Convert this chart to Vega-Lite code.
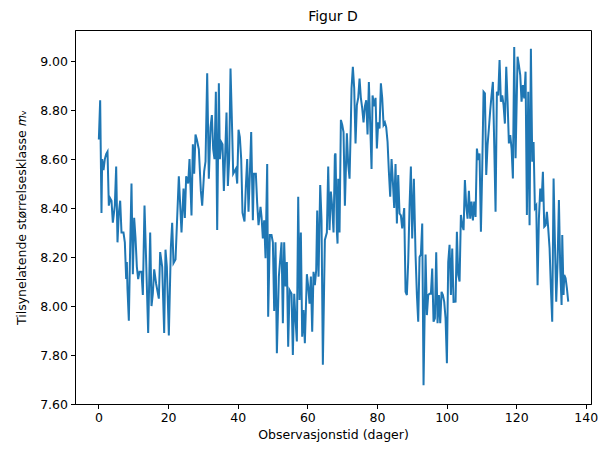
{
  "$schema": "https://vega.github.io/schema/vega-lite/v6.json",
  "width": 516,
  "height": 374,
  "autosize": {"type": "none"},
  "padding": {"left": 75, "top": 30, "right": 9, "bottom": 47},
  "title": {"text": "Figur D", "fontSize": 14, "fontWeight": "normal", "font": "DejaVu Sans", "color": "black", "offset": 6},
  "config": {
    "view": {"stroke": "black", "strokeWidth": 1},
    "axis": {"domainColor": "black", "tickColor": "black", "labelColor": "black", "titleColor": "black", "labelFont": "DejaVu Sans", "titleFont": "DejaVu Sans", "labelFontSize": 12.5, "titleFontSize": 12.5, "titleFontWeight": "normal", "tickSize": 4.5, "grid": false, "labelPadding": 3}
  },
  "data": {"values": [
    {"t":0.10,"m":8.68},{"t":0.48,"m":8.84},{"t":0.86,"m":8.38},{"t":1.05,"m":8.60},{"t":1.44,"m":8.555},{"t":1.82,"m":8.60},{"t":2.20,"m":8.62},{"t":2.59,"m":8.63},{"t":2.97,"m":8.41},{"t":3.35,"m":8.44},{"t":3.74,"m":8.43},{"t":4.12,"m":8.34},{"t":4.69,"m":8.41},{"t":5.08,"m":8.57},{"t":5.46,"m":8.26},{"t":5.84,"m":8.38},{"t":6.23,"m":8.43},{"t":6.61,"m":8.30},{"t":7.18,"m":8.30},{"t":7.57,"m":8.26},{"t":7.95,"m":8.11},{"t":8.14,"m":8.18},{"t":8.33,"m":8.07},{"t":8.72,"m":7.94},{"t":9.10,"m":8.24},{"t":9.48,"m":8.50},{"t":9.87,"m":8.13},{"t":10.25,"m":8.36},{"t":10.63,"m":8.28},{"t":11.02,"m":8.16},{"t":11.40,"m":8.11},{"t":11.78,"m":8.14},{"t":12.36,"m":8.14},{"t":12.74,"m":8.045},{"t":13.22,"m":8.41},{"t":13.70,"m":8.18},{"t":14.27,"m":7.89},{"t":14.85,"m":8.30},{"t":15.23,"m":8.00},{"t":15.61,"m":8.05},{"t":16.00,"m":8.15},{"t":16.57,"m":8.09},{"t":17.34,"m":8.03},{"t":17.72,"m":8.22},{"t":18.30,"m":8.16},{"t":18.87,"m":7.89},{"t":19.25,"m":8.23},{"t":19.64,"m":8.16},{"t":20.21,"m":7.88},{"t":20.79,"m":8.24},{"t":21.17,"m":8.34},{"t":21.55,"m":8.175},{"t":22.13,"m":8.19},{"t":23.08,"m":8.53},{"t":23.85,"m":8.30},{"t":24.43,"m":8.48},{"t":24.81,"m":8.36},{"t":25.19,"m":8.53},{"t":25.77,"m":8.50},{"t":26.15,"m":8.60},{"t":26.72,"m":8.37},{"t":27.11,"m":8.66},{"t":27.49,"m":8.54},{"t":27.87,"m":8.70},{"t":28.26,"m":8.68},{"t":28.83,"m":8.64},{"t":29.41,"m":8.47},{"t":29.79,"m":8.41},{"t":30.36,"m":8.55},{"t":30.75,"m":8.59},
    {"t":31.23,"m":8.95},{"t":31.70,"m":8.52},{"t":32.18,"m":8.73},{"t":32.57,"m":8.78},{"t":32.95,"m":8.64},{"t":33.33,"m":8.60},{"t":33.72,"m":8.875},{"t":34.10,"m":8.31},{"t":34.58,"m":8.91},{"t":34.87,"m":8.60},{"t":35.25,"m":8.67},{"t":35.63,"m":8.66},{"t":36.02,"m":8.47},{"t":36.40,"m":8.62},{"t":36.78,"m":8.79},{"t":37.17,"m":8.49},{"t":37.55,"m":8.60},{"t":37.93,"m":8.97},{"t":38.41,"m":8.71},{"t":38.70,"m":8.54},{"t":39.08,"m":8.55},{"t":39.46,"m":8.56},{"t":39.85,"m":8.50},{"t":40.23,"m":8.72},{"t":40.61,"m":8.69},{"t":41.00,"m":8.60},{"t":41.38,"m":8.38},{"t":41.95,"m":8.345},{"t":42.34,"m":8.49},{"t":42.72,"m":8.60},{"t":43.10,"m":8.385},{"t":43.49,"m":8.54},{"t":43.87,"m":8.71},{"t":44.35,"m":8.35},{"t":44.64,"m":8.54},{"t":45.21,"m":8.54},{"t":45.59,"m":8.42},{"t":45.98,"m":8.33},
    {"t":46.55,"m":8.405},{"t":46.84,"m":8.365},{"t":47.22,"m":8.276},{"t":47.60,"m":8.35},{"t":47.99,"m":8.195},{"t":48.47,"m":8.58},{"t":48.75,"m":7.956},{"t":49.23,"m":8.29},{"t":49.71,"m":8.29},{"t":50.10,"m":8.26},{"t":50.48,"m":7.98},{"t":50.86,"m":8.26},{"t":51.25,"m":7.807},{"t":51.82,"m":8.12},{"t":52.20,"m":8.19},{"t":52.59,"m":8.26},{"t":52.97,"m":7.93},{"t":53.35,"m":8.26},{"t":53.74,"m":8.08},{"t":54.12,"m":8.18},{"t":54.50,"m":7.834},{"t":54.89,"m":8.065},{"t":55.46,"m":8.05},{"t":55.84,"m":7.80},{"t":56.23,"m":8.05},{"t":56.61,"m":7.943},{"t":56.99,"m":7.855},{"t":57.38,"m":8.446},{"t":57.76,"m":8.025},{"t":58.14,"m":8.30},{"t":58.52,"m":7.875},{"t":58.91,"m":7.984},{"t":59.29,"m":7.848},{"t":59.87,"m":8.13},{"t":60.25,"m":8.08},{"t":60.63,"m":8.01},{"t":61.02,"m":8.12},{"t":61.40,"m":7.895},{"t":61.78,"m":8.14},{"t":62.16,"m":8.085},{"t":62.55,"m":8.147},{"t":62.84,"m":8.39},{"t":63.22,"m":8.12},{"t":63.70,"m":8.494},{"t":64.08,"m":8.35},{"t":64.46,"m":7.76},{"t":65.04,"m":8.27},{"t":65.61,"m":8.30},{"t":66.00,"m":8.57},{"t":66.38,"m":8.31},{"t":66.76,"m":8.467},{"t":67.15,"m":8.405},{"t":67.53,"m":8.30},{"t":67.91,"m":8.616},
    {"t":68.10,"m":8.623},{"t":68.49,"m":8.303},{"t":68.68,"m":8.255},{"t":68.87,"m":8.52},{"t":69.25,"m":8.30},{"t":69.64,"m":8.76},{"t":70.02,"m":8.74},{"t":70.40,"m":8.71},{"t":70.79,"m":8.41},{"t":71.36,"m":8.705},{"t":71.74,"m":8.58},{"t":72.13,"m":8.52},{"t":72.51,"m":8.75},{"t":72.70,"m":8.888},{"t":73.08,"m":8.977},{"t":73.47,"m":8.888},{"t":73.85,"m":8.664},{"t":74.23,"m":8.82},{"t":74.62,"m":8.85},{"t":75.00,"m":8.929},{"t":75.38,"m":8.85},{"t":75.77,"m":8.807},{"t":76.15,"m":8.75},{"t":76.53,"m":8.815},{"t":76.92,"m":8.84},{"t":77.30,"m":8.70},{"t":77.68,"m":8.915},{"t":78.07,"m":8.74},{"t":78.45,"m":8.56},{"t":78.74,"m":8.86},{"t":79.21,"m":8.815},{"t":79.60,"m":8.85},{"t":79.98,"m":8.643},{"t":80.36,"m":8.75},{"t":80.75,"m":8.725},{"t":81.13,"m":8.909},{"t":81.51,"m":8.85},{"t":81.90,"m":8.74},{"t":82.28,"m":8.75},{"t":82.66,"m":8.73},{"t":83.05,"m":8.67},{"t":83.43,"m":8.548},{"t":83.81,"m":8.446},{"t":84.20,"m":8.60},{"t":84.58,"m":8.507},{"t":84.96,"m":8.40},{"t":85.34,"m":8.58},{"t":85.73,"m":8.337},{"t":86.11,"m":8.535},{"t":86.49,"m":8.378},{"t":86.88,"m":8.37},{"t":87.26,"m":8.317},{"t":87.83,"m":8.40},{"t":88.22,"m":8.058},{"t":88.60,"m":8.045},{"t":88.98,"m":8.18},{"t":89.37,"m":8.41},{"t":89.75,"m":8.57},{"t":90.13,"m":8.276},{"t":90.61,"m":8.52},{"t":91.09,"m":8.21},{"t":91.48,"m":8.045},{"t":91.86,"m":7.936},{"t":92.24,"m":8.20},{"t":92.62,"m":8.21},{"t":93.01,"m":8.337},{"t":93.39,"m":7.677},{"t":93.97,"m":8.21},{"t":94.35,"m":7.963},{"t":94.73,"m":8.045},{"t":95.11,"m":8.05},{"t":95.50,"m":8.05},{"t":95.88,"m":8.153},{"t":96.26,"m":7.936},{"t":96.65,"m":7.95},{"t":97.03,"m":8.22},{"t":97.41,"m":7.93},{"t":97.80,"m":8.045},{"t":98.18,"m":7.93},{"t":98.56,"m":8.058},{"t":98.95,"m":8.045},{"t":99.33,"m":8.017},{"t":99.71,"m":7.95},{"t":100.10,"m":7.766},{"t":100.48,"m":8.18},{"t":100.86,"m":8.25},{"t":101.25,"m":8.045},{"t":101.63,"m":8.235},{"t":102.01,"m":8.017},
    {"t":102.59,"m":8.018},{"t":102.97,"m":8.303},{"t":103.35,"m":8.127},{"t":103.74,"m":8.10},{"t":104.12,"m":8.372},{"t":104.50,"m":8.33},{"t":104.89,"m":8.31},{"t":105.27,"m":8.514},{"t":105.65,"m":8.41},{"t":106.03,"m":8.357},{"t":106.42,"m":8.47},{"t":106.80,"m":8.357},{"t":107.18,"m":8.426},{"t":107.57,"m":8.35},{"t":107.95,"m":8.426},{"t":108.33,"m":8.364},{"t":108.72,"m":8.643},{"t":109.10,"m":8.596},{"t":109.48,"m":8.623},{"t":109.87,"m":8.303},{"t":110.25,"m":8.562},{"t":110.63,"m":8.875},{"t":111.02,"m":8.868},{"t":111.40,"m":8.535},{"t":111.78,"m":8.657},{"t":112.16,"m":8.725},{"t":112.55,"m":8.80},{"t":112.93,"m":8.86},{"t":113.31,"m":8.915},{"t":113.70,"m":8.657},{"t":114.08,"m":8.385},{"t":114.46,"m":8.875},{"t":114.85,"m":8.86},{"t":115.23,"m":9.004},{"t":115.61,"m":8.834},{"t":116.00,"m":8.86},{"t":116.38,"m":8.82},{"t":116.76,"m":8.745},{"t":117.15,"m":8.977},{"t":117.53,"m":8.834},{"t":117.91,"m":8.664},{"t":118.30,"m":8.698},{"t":118.68,"m":8.643},{"t":119.06,"m":8.521},{"t":119.44,"m":9.058},{"t":119.83,"m":8.603},{"t":120.40,"m":9.018},{"t":120.78,"m":8.984},{"t":121.17,"m":8.943},{"t":121.55,"m":8.834},{"t":121.93,"m":8.902},{"t":122.32,"m":8.848},{"t":122.70,"m":8.957},{"t":123.08,"m":8.372},{"t":123.47,"m":8.875},{"t":123.85,"m":8.33},{"t":124.23,"m":9.05},{"t":124.62,"m":8.589},{"t":125.00,"m":8.67},{"t":125.38,"m":8.40},{"t":125.77,"m":8.41},{"t":126.15,"m":8.085},{"t":126.53,"m":8.357},{"t":126.92,"m":8.48},{"t":127.30,"m":8.426},{"t":127.68,"m":8.548},{"t":128.07,"m":8.324},{"t":128.45,"m":8.33},{"t":128.83,"m":8.385},{"t":129.21,"m":8.317},{"t":129.60,"m":8.235},{"t":129.98,"m":8.072},{"t":130.36,"m":7.936},{"t":130.75,"m":8.521},{"t":131.13,"m":8.262},{"t":131.51,"m":8.018},{"t":131.90,"m":8.181},{"t":132.28,"m":8.433},{"t":132.66,"m":8.154},{"t":133.05,"m":8.004},{"t":133.24,"m":8.29},{"t":133.62,"m":8.045},{"t":133.81,"m":8.127},{"t":134.20,"m":8.113},{"t":134.58,"m":8.072},{"t":134.96,"m":8.018}
  ]},
  "mark": {"type": "line", "color": "#1f77b4", "strokeWidth": 2, "clip": true},
  "encoding": {
    "x": {"field": "t", "type": "quantitative", "scale": {"domain": [-6.75, 141.5], "nice": false, "zero": false},
      "axis": {"title": "Observasjonstid (dager)", "values": [0, 20, 40, 60, 80, 100, 120, 140], "format": "d", "titlePadding": 4}},
    "y": {"field": "m", "type": "quantitative", "scale": {"domain": [7.6, 9.127], "nice": false, "zero": false},
      "axis": {"title": "Tilsynelatende størrelsesklasse 𝑚ᵥ", "values": [7.6, 7.8, 8.0, 8.2, 8.4, 8.6, 8.8, 9.0], "format": ".2f", "titlePadding": 11}}
  }
}
